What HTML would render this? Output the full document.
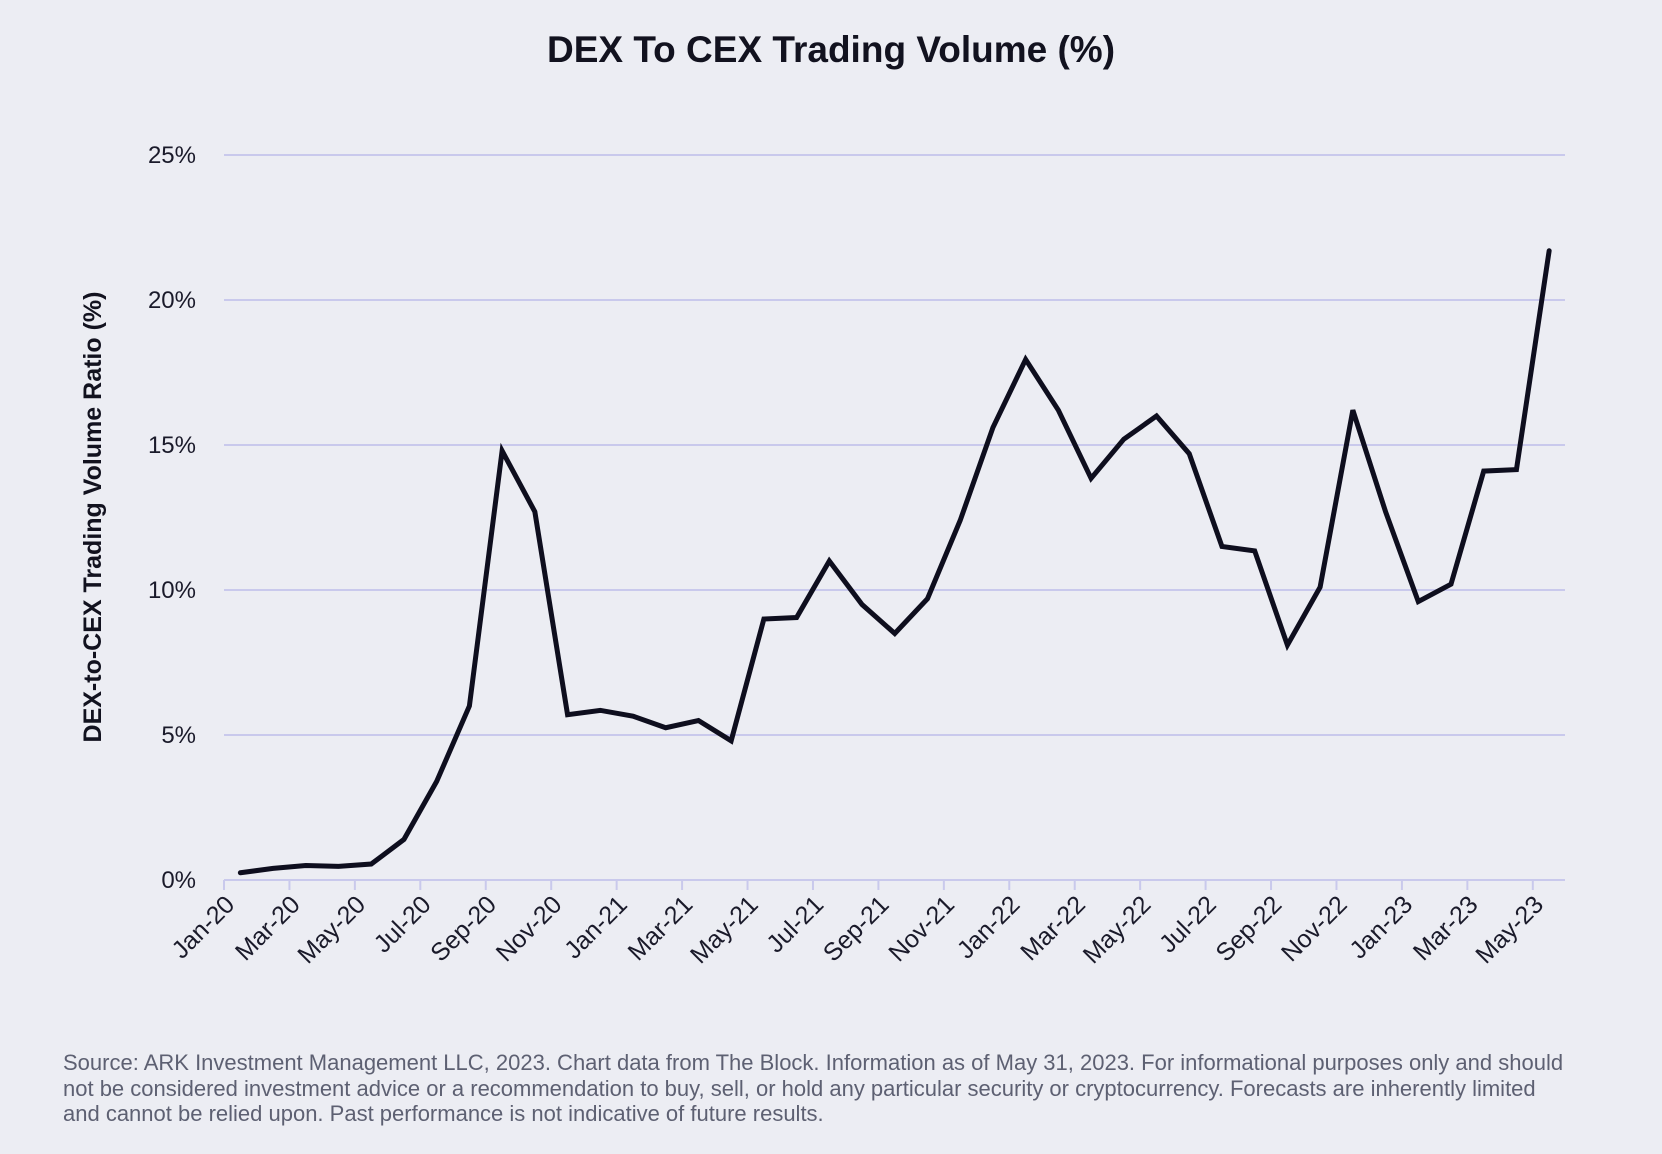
<!DOCTYPE html>
<html><head><meta charset="utf-8"><style>
html,body{margin:0;padding:0;background:#ecedf3;}
body{width:1662px;height:1154px;overflow:hidden;position:relative;font-family:"Liberation Sans",sans-serif;}
#title{position:absolute;top:29px;left:0;width:1662px;text-align:center;font-weight:bold;font-size:37px;color:#12121f;}
#foot{position:absolute;left:63px;top:1050px;width:1600px;font-size:22px;line-height:25.5px;color:#5d6072;}
</style></head><body>
<div id="title">DEX To CEX Trading Volume (%)</div>
<svg id="chart" width="1662" height="1154" style="position:absolute;left:0;top:0"></svg>
<div id="foot">Source: ARK Investment Management LLC, 2023. Chart data from The Block. Information as of May 31, 2023. For informational purposes only and should<br>not be considered investment advice or a recommendation to buy, sell, or hold any particular security or cryptocurrency. Forecasts are inherently limited<br>and cannot be relied upon. Past performance is not indicative of future results.</div>
<script>
const months=["Jan-20","Feb-20","Mar-20","Apr-20","May-20","Jun-20","Jul-20","Aug-20","Sep-20","Oct-20","Nov-20","Dec-20","Jan-21","Feb-21","Mar-21","Apr-21","May-21","Jun-21","Jul-21","Aug-21","Sep-21","Oct-21","Nov-21","Dec-21","Jan-22","Feb-22","Mar-22","Apr-22","May-22","Jun-22","Jul-22","Aug-22","Sep-22","Oct-22","Nov-22","Dec-22","Jan-23","Feb-23","Mar-23","Apr-23","May-23"];
const ratio=[0.25,0.4,0.5,0.47,0.55,1.4,3.4,6.0,14.8,12.7,5.7,5.85,5.65,5.25,5.5,4.8,9.0,9.05,11.0,9.5,8.5,9.7,12.4,15.6,17.95,16.2,13.85,15.2,16.0,14.7,11.5,11.35,8.1,10.1,16.2,12.7,9.6,10.2,14.1,14.15,21.7];
const yTicks=[0,5,10,15,20,25];
const svg=document.getElementById('chart');const NS='http://www.w3.org/2000/svg';
const X0=224,X1=1565,MW=32.72,Y0=880,YT=155,YMAX=25;
const xPos=i=>X0+(i+0.5)*MW;
const yPos=v=>Y0-(v/YMAX)*(Y0-YT);
function mk(t,a){const e=document.createElementNS(NS,t);for(const k in a)e.setAttribute(k,a[k]);svg.appendChild(e);return e;}
yTicks.forEach(v=>{
 const l=mk('line',{x1:X0,x2:X1,y1:yPos(v),y2:yPos(v),stroke:'#c9c9ec','stroke-width':2});
 
 
 const t=mk('text',{x:196,y:yPos(v)+8,'text-anchor':'end','font-size':24,fill:'#1a1a2a','font-family':'Liberation Sans, sans-serif'});
 t.textContent=v+'%';
 
 
});
months.forEach((m,i)=>{
 if(i%2)return;
 const x=X0+i*MW;
 const tk=mk('line',{x1:x,x2:x,y1:Y0,y2:Y0+10,stroke:'#c9c9ec','stroke-width':2});
 
 
 const t=mk('text',{x:x+12,y:Y0+26,'text-anchor':'end','font-size':25,fill:'#1a1a2a','font-family':'Liberation Sans, sans-serif',transform:`rotate(-45 ${x+12} ${Y0+26})`});
 t.textContent=m;
 
 
});
const at=mk('text',{x:0,y:0,'text-anchor':'middle','font-size':25,'font-weight':'bold',fill:'#12121f','font-family':'Liberation Sans, sans-serif',transform:`translate(101 517) rotate(-90)`});
at.textContent='DEX-to-CEX Trading Volume Ratio (%)';


const p=mk('polyline',{points:ratio.map((v,i)=>xPos(i)+','+yPos(v)).join(' '),fill:'none',stroke:'#0e0e1e','stroke-width':5,'stroke-linejoin':'miter','stroke-linecap':'round'});


</script>
</body></html>
